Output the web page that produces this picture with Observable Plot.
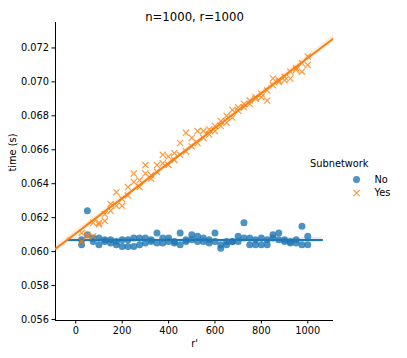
<!DOCTYPE html>
<html><head><meta charset="utf-8">
<script src="https://cdn.jsdelivr.net/npm/d3@7"></script>
<script src="https://cdn.jsdelivr.net/npm/@observablehq/plot@0.6"></script>
<style>body{margin:0;background:#fff} svg{font-family:"DejaVu Sans",sans-serif}</style>
</head><body><div id="chart"></div>
<script>
const title = "n=1000, r=1000";
const xLabel = "r'";
const yLabel = "time (s)";
const legendTitle = "Subnetwork";
const groups = ["No", "Yes"];
const colors = ["#1f77b4", "#ff7f0e"];
const rPrime = [25,50,75,100,125,150,175,200,225,250,275,300,325,350,375,400,425,450,475,500,
  525,550,575,600,625,650,675,700,725,750,775,800,825,850,875,900,925,950,975,1000];
const timeNoA = [0.0604,0.0624,0.0608,0.0608,0.0606,0.0607,0.0604,0.0607,0.0607,0.0608,
  0.0608,0.0608,0.0607,0.0611,0.0608,0.0608,0.0606,0.0611,0.0606,0.0610,
  0.0609,0.0608,0.0607,0.0611,0.0602,0.0606,0.0606,0.0609,0.0617,0.0608,
  0.0604,0.0608,0.0604,0.0610,0.0611,0.0607,0.0606,0.0607,0.0615,0.0609];
const timeNoB = [0.0607,0.0610,0.0606,0.0604,0.0607,0.0605,0.0606,0.0603,0.0603,0.0603,
  0.0604,0.0605,0.0606,0.0605,0.0605,0.0606,0.0605,0.0604,0.0607,0.0607,
  0.0606,0.0606,0.0605,0.0606,0.0604,0.0604,0.0606,0.0606,0.0608,0.0604,
  0.0607,0.0604,0.0607,0.0608,0.0607,0.0606,0.0605,0.0605,0.0604,0.0604];
const timeYesA = [0.0606,0.0610,0.0609,0.0617,0.0618,0.0628,0.0627,0.0627,0.0638,0.0646,
  0.0638,0.0651,0.0643,0.0651,0.0657,0.0656,0.0658,0.0664,0.0670,0.0667,
  0.0671,0.0671,0.0672,0.0674,0.0677,0.0680,0.06835,0.0685,0.0687,0.0689,
  0.0690,0.0691,0.0695,0.0702,0.0700,0.0701,0.0702,0.0708,0.0706,0.0715];
const timeYesB = [0.0611,0.0609,0.0617,0.0616,0.0622,0.0624,0.0635,0.0631,0.0633,0.0641,
  0.0642,0.0646,0.0645,0.0647,0.0652,0.0651,0.0654,0.0657,0.0659,0.0662,
  0.0664,0.0667,0.0669,0.0671,0.0674,0.0676,0.0679,0.0683,0.0685,0.0687,
  0.0691,0.0693,0.0689,0.0698,0.0701,0.0703,0.0706,0.0707,0.0711,0.0710];
const xTicks = [0, 200, 400, 600, 800, 1000];
const yTicks = [0.056, 0.058, 0.060, 0.062, 0.064, 0.066, 0.068, 0.070, 0.072];
const xDomain = [-87.5, 1111];
const yDomain = [0.05594, 0.0735];
const fitExtentNo = [-35, 1062];
const fitExtentYes = [-87.5, 1111];

function rows(a, b) {
  return rPrime.flatMap((r, i) => [{r, t: a[i]}, {r, t: b[i]}]);
}
const noData = rows(timeNoA, timeNoB);
const yesData = rows(timeYesA, timeYesB);

function fitLine(data, extent) {
  const n = data.length;
  const mx = d3.mean(data, d => d.r), my = d3.mean(data, d => d.t);
  let sxx = 0, sxy = 0;
  for (const d of data) { sxx += (d.r - mx) ** 2; sxy += (d.r - mx) * (d.t - my); }
  const b = sxy / sxx, a = my - b * mx;
  let sse = 0;
  for (const d of data) sse += (d.t - a - b * d.r) ** 2;
  const s = Math.sqrt(sse / (n - 2));
  const tval = 1.99;
  const steps = 60;
  return d3.range(steps + 1).map(i => {
    const x = extent[0] + (extent[1] - extent[0]) * i / steps;
    const y = a + b * x;
    const h = tval * s * Math.sqrt(1 / n + (x - mx) ** 2 / sxx);
    return {x, y, lo: y - h, hi: y + h};
  });
}
const fitNo = fitLine(noData, fitExtentNo);
const fitYes = fitLine(yesData, fitExtentYes);

const chart = Plot.plot({
  width: 407, height: 358,
  marginLeft: 55, marginRight: 74, marginTop: 22, marginBottom: 38,
  style: {fontFamily: "DejaVu Sans, sans-serif", fontSize: "9.8px", color: "#000", background: "#fff", overflow: "visible"},
  x: {domain: xDomain},
  y: {domain: yDomain},
  marks: [
    Plot.ruleX([xDomain[0]], {stroke: "#000", strokeWidth: 1}),
    Plot.ruleY([yDomain[0]], {stroke: "#000", strokeWidth: 1}),
    Plot.axisX({ticks: xTicks, tickFormat: d3.format("d"), tickSize: 3.5, tickPadding: 3, label: null, fontSize: 9.8}),
    Plot.axisY({ticks: yTicks, tickFormat: d3.format(".3f"), tickSize: 3.5, tickPadding: 3, label: null, fontSize: 9.8}),
    Plot.dot(noData, {x: "r", y: "t", r: 3.5, fill: colors[0], fillOpacity: 0.8, stroke: "none"}),
    Plot.areaY(fitNo, {x: "x", y1: "lo", y2: "hi", fill: colors[0], fillOpacity: 0.15}),
    Plot.line(fitNo, {x: "x", y: "y", stroke: colors[0], strokeWidth: 2}),
    Plot.dot(yesData, {x: "r", y: "t", r: 2.9, symbol: "times", stroke: colors[1], strokeOpacity: 0.8, strokeWidth: 1.2}),
    Plot.areaY(fitYes, {x: "x", y1: "lo", y2: "hi", fill: colors[1], fillOpacity: 0.15, clip: true}),
    Plot.line(fitYes, {x: "x", y: "y", stroke: colors[1], strokeWidth: 2, clip: true}),
    Plot.text([title], {frameAnchor: "top", dy: -9.5, fontSize: 11.7, fill: "#000"}),
    Plot.text([yLabel], {frameAnchor: "left", dx: -43, rotate: -90, fontSize: 9.8, fill: "#000"}),
    Plot.text([xLabel], {frameAnchor: "bottom", dy: 26, fontSize: 9.8, fill: "#000"}),
    Plot.text([legendTitle], {frameAnchor: "right", dx: 35, dy: -8, fontSize: 9.8, fill: "#000"}),
    Plot.dot([groups[0]], {frameAnchor: "right", dx: 23, dy: 8, r: 3.5, fill: colors[0], fillOpacity: 0.8}),
    Plot.text([groups[0]], {frameAnchor: "right", dx: 41, dy: 8, textAnchor: "start", fontSize: 9.8, fill: "#000"}),
    Plot.dot([groups[1]], {frameAnchor: "right", dx: 23, dy: 21.5, r: 2.9, symbol: "times", stroke: colors[1], strokeOpacity: 0.8, strokeWidth: 1.2}),
    Plot.text([groups[1]], {frameAnchor: "right", dx: 41, dy: 21.5, textAnchor: "start", fontSize: 9.8, fill: "#000"})
  ]
});
document.getElementById("chart").appendChild(chart);
</script>
</body></html>
